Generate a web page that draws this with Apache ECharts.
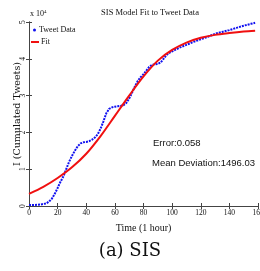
<!DOCTYPE html>
<html>
<head>
<meta charset="utf-8">
<script src="https://cdn.jsdelivr.net/npm/echarts@6/dist/echarts.min.js"></script>
<style>
  html, body { margin: 0; padding: 0; background: #fff; }
  #chart { width: 260px; height: 271px; }
</style>
</head>
<body>
<div id="chart"></div>
<script>
  "use strict";

  // time (hours) and cumulated tweets (x 10^4)
  var tweetHours = [0, 4, 8, 12, 14, 16, 18, 20, 22, 24, 26, 28, 30, 32, 34, 36, 38, 40, 42, 44, 46, 48,
    50, 52, 54, 56, 58, 60, 62, 64, 66, 68, 70, 72, 74, 76, 78, 80, 82, 84, 86, 88, 90, 92, 94, 96, 98,
    100, 105, 110, 115, 120, 125, 130, 135, 140, 145, 150, 155, 158];
  var tweetValues = [0.03, 0.03, 0.04, 0.07, 0.12, 0.2, 0.33, 0.49, 0.66, 0.8, 1.0, 1.2, 1.36, 1.5, 1.62,
    1.7, 1.73, 1.74, 1.76, 1.8, 1.86, 1.95, 2.1, 2.3, 2.52, 2.64, 2.68, 2.7, 2.71, 2.72, 2.74, 2.8, 2.92,
    3.08, 3.25, 3.4, 3.5, 3.58, 3.68, 3.78, 3.84, 3.85, 3.86, 3.9, 4.0, 4.1, 4.16, 4.2, 4.3, 4.38, 4.46,
    4.53, 4.6, 4.68, 4.73, 4.78, 4.84, 4.9, 4.95, 4.98];

  var fitHours = [0, 10, 20, 30, 40, 50, 60, 70, 80, 90, 100, 110, 120, 130, 140, 150, 158];
  var fitValues = [0.33, 0.52, 0.76, 1.05, 1.42, 1.9, 2.45, 3.0, 3.52, 3.95, 4.24, 4.44, 4.57, 4.65,
    4.7, 4.74, 4.76];

  var xTicks = [0, 20, 40, 60, 80, 100, 120, 140, 160];
  var yTicks = [0, 1, 2, 3, 4, 5];

  function pairs(xs, ys) {
    return xs.map(function (x, i) { return [x, ys[i]]; });
  }

  var serif = "Liberation Serif";
  var axisColor = "#444";

  var chart = echarts.init(document.getElementById("chart"), null, { renderer: "canvas" });

  var frameAxis = {
    axisLine: { show: true, lineStyle: { color: axisColor, width: 1 } },
    axisTick: { show: true, inside: true, length: 3, lineStyle: { color: axisColor } },
    splitLine: { show: false }
  };

  chart.setOption({
    animation: false,
    backgroundColor: "#fff",
    title: {
      text: "SIS Model Fit to Tweet Data",
      left: 145,
      top: 3,
      textAlign: "center",
      textStyle: { fontFamily: serif, fontSize: 8.5, fontWeight: "normal", color: "#111" }
    },
    legend: [{
      data: ["Tweet Data"],
      icon: "circle",
      itemWidth: 3,
      itemHeight: 3,
      left: 33,
      top: 26,
      padding: 0,
      textStyle: { fontFamily: serif, fontSize: 8, color: "#111", padding: [0, 0, 0, -2] }
    }, {
      data: ["Fit"],
      icon: "rect",
      itemWidth: 8,
      itemHeight: 2,
      left: 31,
      top: 38,
      padding: 0,
      textStyle: { fontFamily: serif, fontSize: 8, color: "#111", padding: [0, 0, 0, -3] }
    }],
    grid: { left: 29, right: 2, top: 22, bottom: 65, outerBoundsMode: "none", containLabel: false },
    xAxis: [Object.assign({
      type: "value",
      min: xTicks[0],
      max: xTicks[xTicks.length - 1],
      interval: 20,
      name: "Time (1 hour)",
      nameLocation: "middle",
      nameGap: 17,
      nameTextStyle: { fontFamily: serif, fontSize: 10, color: "#111" },
      axisLabel: { fontFamily: serif, fontSize: 7.5, color: "#111", margin: 3, showMaxLabel: true }
    }, frameAxis), Object.assign({
      type: "value",
      position: "top",
      min: xTicks[0],
      max: xTicks[xTicks.length - 1],
      interval: 20,
      axisLabel: { show: false }
    }, frameAxis)],
    yAxis: [Object.assign({
      type: "value",
      min: yTicks[0],
      max: yTicks[yTicks.length - 1],
      interval: 1,
      name: "I (Cumulated Tweets)",
      nameLocation: "middle",
      nameGap: 6,
      nameMoveOverlap: false,
      nameTextStyle: { fontFamily: "DejaVu Serif", fontSize: 9.5, color: "#111" },
      axisLabel: { fontFamily: serif, fontSize: 7.5, color: "#111", margin: 2, rotate: 90 }
    }, frameAxis), Object.assign({
      type: "value",
      position: "right",
      min: yTicks[0],
      max: yTicks[yTicks.length - 1],
      interval: 1,
      axisLabel: { show: false }
    }, frameAxis)],
    series: [{
      name: "Tweet Data",
      type: "line",
      data: pairs(tweetHours, tweetValues),
      showSymbol: false,
      symbol: "circle",
      itemStyle: { color: "#1010f0" },
      lineStyle: { color: "#1010f0", width: 2, type: [2, 1] },
      z: 2
    }, {
      name: "Fit",
      type: "line",
      smooth: 0.3,
      data: pairs(fitHours, fitValues),
      showSymbol: false,
      itemStyle: { color: "#f01010" },
      lineStyle: { color: "#f01010", width: 2 },
      z: 3
    }],
    graphic: [{
      type: "text",
      left: 30,
      top: 9,
      style: {
        text: "{b|x 10}{s|4}",
        rich: {
          b: { fontFamily: serif, fontSize: 8, fill: "#111" },
          s: { fontFamily: serif, fontSize: 5, fill: "#111", verticalAlign: "top", padding: [0, 0, 5, 0] }
        }
      }
    }, {
      type: "text",
      left: 153,
      top: 138,
      style: { text: "Error:0.058", fontFamily: "Liberation Sans", fontSize: 9.5, fill: "#111" }
    }, {
      type: "text",
      left: 152,
      top: 158,
      style: { text: "Mean Deviation:1496.03", fontFamily: "Liberation Sans", fontSize: 9.5, fill: "#111" }
    }, {
      type: "text",
      left: "center",
      top: 242,
      style: { text: "(a) SIS", fontFamily: "DejaVu Serif", fontSize: 18, fill: "#111" }
    }]
  });
</script>
</body>
</html>
